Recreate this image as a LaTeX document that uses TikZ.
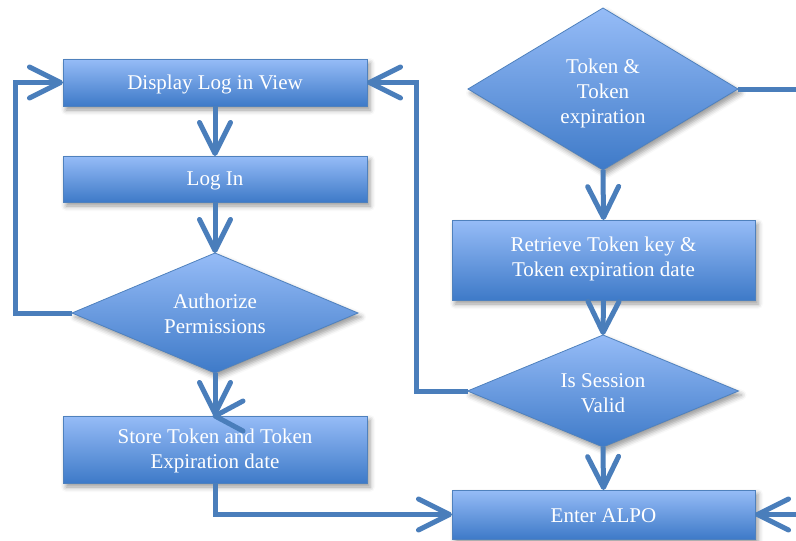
\documentclass[tikz,border=0pt]{standalone}
\usepackage{fontspec}
\setmainfont{Liberation Serif}
\usetikzlibrary{arrows.meta,shapes.geometric,shadows.blur,calc}
\definecolor{boxtop}{RGB}{150,188,247}
\definecolor{boxbot}{RGB}{62,122,200}
\definecolor{boxline}{RGB}{79,129,189}
\definecolor{flowc}{RGB}{74,126,187}
\begin{document}
\begin{tikzpicture}[x=1pt,y=-1pt,
  shapebase/.style={draw=boxline, line width=0.8pt, top color=boxtop, bottom color=boxbot,
    blur shadow={shadow xshift=3pt, shadow yshift=-4pt, shadow blur radius=5pt, shadow opacity=40},
    inner sep=0pt, outer sep=0pt},
  procbox/.style={shapebase, rectangle, text=white, align=center,
    font=\fontsize{21}{25}\selectfont},
  decis/.style={shapebase, diamond},
  lbl/.style={text=white, align=center, font=\fontsize{21}{25}\selectfont},
  flow/.style={draw=flowc, line width=5pt, line join=miter,
    -{Straight Barb[length=31pt,width=31pt,round]}},
  plainline/.style={draw=flowc, line width=5pt},
  barbline/.style={draw=flowc, line width=5pt, line cap=round, line join=round}]
\useasboundingbox (0,0) rectangle (796,541);

% nodes
\node[procbox, minimum width=304pt, minimum height=47pt] (disp) at (215,82.5) {};
\node[lbl] at ($(disp.center)+(0,1.5)$) {Display Log in View};
\node[procbox, minimum width=304pt, minimum height=46pt] (login) at (215,179) {};
\node[lbl] at ($(login.center)+(0,1.5)$) {Log In};
\node[decis, minimum width=286pt, minimum height=120pt] (auth) at (215,313) {};
\node[lbl] at ($(auth.center)+(0,1)$) {Authorize\\Permissions};
\node[procbox, minimum width=304pt, minimum height=67pt] (store) at (215,449.5) {};
\node[lbl] at ($(store.center)+(0,1)$) {Store Token and Token\\Expiration date};

\node[decis, minimum width=270pt, minimum height=162pt] (token) at (603,89) {};
\node[lbl] at ($(token.center)+(0,4)$) {Token \&\\Token\\expiration};
\node[procbox, minimum width=303pt, minimum height=80pt] (retr) at (603.5,260) {};
\node[lbl] at ($(retr.center)+(0,-1)$) {Retrieve Token key \&\\Token expiration date};
\node[decis, minimum width=271pt, minimum height=112pt] (sess) at (603,391) {};
\node[lbl] at ($(sess.center)+(0,2)$) {Is Session\\Valid};
\node[procbox, minimum width=303pt, minimum height=49pt] (enter) at (603.5,514.5) {};
\node[lbl] at ($(enter.center)+(0,1)$) {Enter ALPO};

\coordinate (rightout) at (796,89);
\coordinate (rightin) at (796,514.5);

% connectors
\draw[flow] (disp.south) -- (login.north);
\draw[flow] (login.south) -- (auth.north);
\draw[flow] (auth.south) -- (store.north);
\draw[barbline] ($(store.north)+(28,-15)$) -- (store.north) -- ($(store.north)+(28,15)$);
\draw[flow] (auth.west) -- ++(-57,0) |- (disp.west);
\draw[flow] (sess.west) -- ++(-51,0) |- (disp.east);
\draw[flow] (token.south) -- (retr.north);
\draw[flow] (retr.south) -- (sess.north);
\draw[flow] (sess.south) -- (enter.north);
\draw[flow] (store.south) |- (enter.west);
\draw[plainline] (token.east) -- (rightout);
\draw[flow] (rightin) -- (enter.east);
\end{tikzpicture}
\end{document}
